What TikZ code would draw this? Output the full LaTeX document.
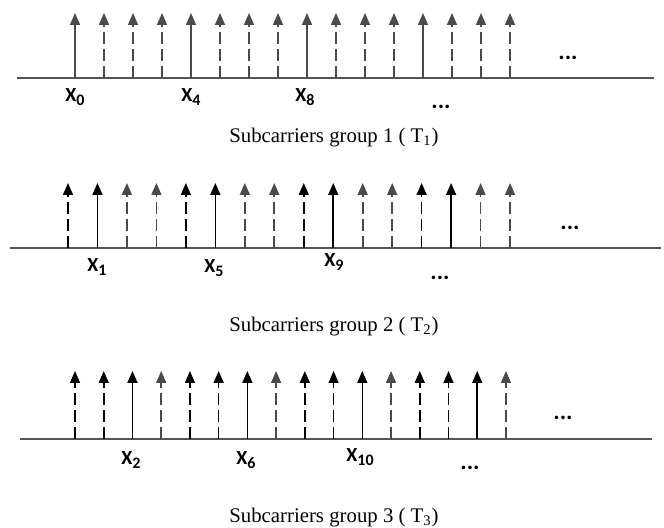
\documentclass[tikz,border=0pt]{standalone}
\usepackage{fontspec}
\setmainfont{Liberation Serif}
\newfontfamily\labelfont{Carlito}
\usepackage{tikz}
\usetikzlibrary{arrows.meta}
\definecolor{carriergray}{HTML}{4A4A4A}
\definecolor{axisgray}{HTML}{555555}
\newcommand{\carsub}[1]{\raisebox{-2pt}{\fontsize{8}{8}\selectfont #1}}
\tikzset{
  axisline/.style={axisgray, line width=1.1pt},
  carrier/.style={-{Triangle[length=6pt,width=5pt]}, line width=0.8pt},
  datacarrier/.style={carrier, dash pattern=on 6pt off 2.5pt},
  sclabel/.style={anchor=base, inner sep=0pt, font=\labelfont\bfseries\fontsize{10}{10}\selectfont},
  moredots/.style={anchor=base, inner sep=0pt, font=\labelfont\bfseries\fontsize{12}{12}\selectfont},
  grpcaption/.style={anchor=base, inner sep=0pt, font=\fontsize{10.4}{12}\selectfont}
}

\begin{document}
\begin{tikzpicture}[x=0.5pt,y=-0.5pt]
  \useasboundingbox (0,0) rectangle (664,528);
  % group 1
  \draw[axisline] (17,78) -- (654,78);
  \foreach \i in {0,...,15}{
    \pgfmathsetmacro\xx{75+29*\i}
    \pgfmathtruncatemacro\m{mod(\i,4)}
    \ifnum\m=0 \def\cstyle{carrier}\else\def\cstyle{datacarrier}\fi
    \draw[\cstyle,carriergray] (\xx,78) -- (\xx,13);
  }
  \node[sclabel] (x0) at (75,102) {X\carsub{0}};
  \node[sclabel] (x4) at (191,102) {X\carsub{4}};
  \node[sclabel] (x8) at (305,102) {X\carsub{8}};
  \node[moredots] (dr1) at (568,60) {...};
  \node[moredots] (db1) at (441,109) {...};
  \node[grpcaption] (cap1) at (334,143) {Subcarriers group 1 ( T\textsubscript{1})};
  % group 2
  \draw[axisline] (10,248) -- (661,248);
  \foreach \i in {0,...,15}{
    \pgfmathsetmacro\xx{68+29.47*\i}
    \pgfmathtruncatemacro\m{mod(\i,4)}
    \ifnum\m<2 \def\cclr{black}\else\def\cclr{carriergray}\fi
    \ifnum\m=1 \def\cstyle{carrier}\else\def\cstyle{datacarrier}\fi
    \draw[\cstyle,\cclr] (\xx,248) -- (\xx,183);
  }
  \node[sclabel] (x1) at (97,272) {X\carsub{1}};
  \node[sclabel] (x5) at (214,273) {X\carsub{5}};
  \node[sclabel] (x9) at (334,267) {X\carsub{9}};
  \node[moredots] (dr2) at (570,230) {...};
  \node[moredots] (db2) at (440,280) {...};
  \node[grpcaption] (cap2) at (334,332) {Subcarriers group 2 ( T\textsubscript{2})};
  % group 3
  \draw[axisline] (20,439) -- (652,439);
  \foreach \i in {0,...,15}{
    \pgfmathsetmacro\xx{75+28.73*\i}
    \pgfmathtruncatemacro\m{mod(\i,4)}
    \ifnum\m=3 \def\cclr{carriergray}\else\def\cclr{black}\fi
    \ifnum\m=2 \def\cstyle{carrier}\else\def\cstyle{datacarrier}\fi
    \draw[\cstyle,\cclr] (\xx,439) -- (\xx,371);
  }
  \node[sclabel] (x2) at (131,465) {X\carsub{2}};
  \node[sclabel] (x6) at (246,465) {X\carsub{6}};
  \node[sclabel] (x10) at (360,462) {X\carsub{10}};
  \node[moredots] (dr3) at (563,420) {...};
  \node[moredots] (db3) at (470,470) {...};
  \node[grpcaption] (cap3) at (334,523) {Subcarriers group 3 ( T\textsubscript{3})};
\end{tikzpicture}
\end{document}
